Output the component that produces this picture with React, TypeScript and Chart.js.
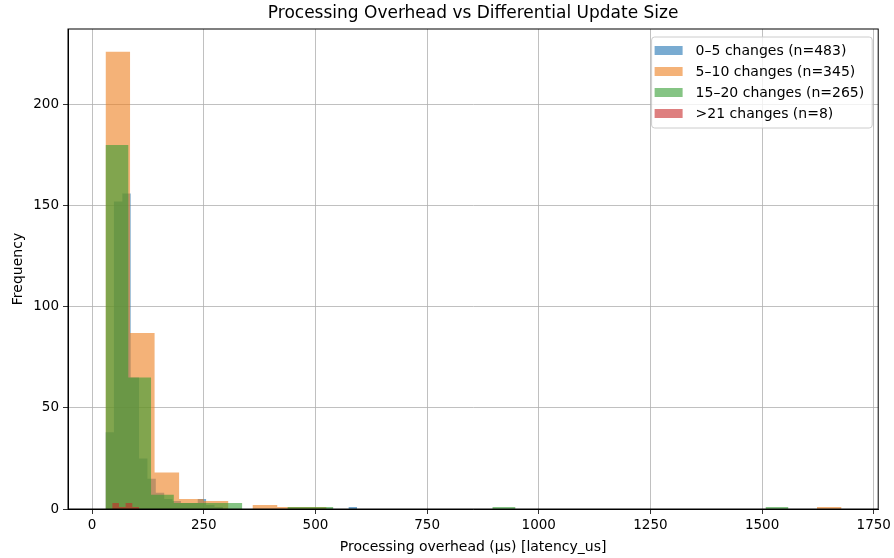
import { useEffect, useRef } from 'react';
import { Chart, registerables } from 'chart.js';

Chart.register(...registerables);

const seriesLabels = ['0–5 changes (n=483)', '5–10 changes (n=345)', '15–20 changes (n=265)', '>21 changes (n=8)'];
const seriesColors = ['rgba(31,115,178,0.6)', 'rgba(236,127,30,0.6)', 'rgba(52,156,50,0.6)', 'rgba(200,42,42,0.6)'];

// histogram bins: start, width, counts
const blueBinStart = 30;
const blueBinWidth = 18.77;
const blueCounts = [38, 152, 156, 65, 25, 15, 8, 5, 4, 3, 3, 5, 2, 1, 0, 0, 0, 0, 0, 0, 0, 0, 0, 0, 0, 0, 0, 0, 0, 1];

const orangeBinStart = 30;
const orangeBinWidth = 54.93;
const orangeCounts = [226, 87, 18, 5, 4, 0, 2, 1, 1, 0, 0, 0, 0, 0, 0, 0, 0, 0, 0, 0, 0, 0, 0, 0, 0, 0, 0, 0, 0, 1];

const greenBinStart = 30;
const greenBinWidth = 50.97;
const greenCounts = [180, 65, 7, 3, 3, 3, 0, 0, 1, 1, 0, 0, 0, 0, 0, 0, 0, 1, 0, 0, 0, 0, 0, 0, 0, 0, 0, 0, 0, 1];

const redBinStart = 45;
const redBinWidth = 15;
const redCounts = [3, 1, 3, 1];

const xTicks = [0, 250, 500, 750, 1000, 1250, 1500, 1750];
const yTicks = [0, 50, 100, 150, 200];

const FONT = 'DejaVu Sans';

function histPoints(start: number, width: number, counts: number[]) {
  const pts: { x: number; y: number }[] = [{ x: start, y: 0 }];
  counts.forEach((c, i) => {
    const x0 = start + i * width;
    pts.push({ x: x0, y: c }, { x: x0 + width, y: c });
  });
  pts.push({ x: start + counts.length * width, y: 0 });
  return pts;
}

const decorPlugin = {
  id: 'decor',
  afterDraw(chart: any) {
    const { ctx, chartArea: ca } = chart;
    ctx.save();
    // spines
    ctx.strokeStyle = '#000';
    ctx.lineWidth = 1;
    ctx.strokeRect(ca.left, ca.top, ca.right - ca.left, ca.bottom - ca.top);
    // title
    ctx.fillStyle = '#000';
    ctx.font = `17px "${FONT}"`;
    ctx.textAlign = 'center';
    ctx.textBaseline = 'middle';
    ctx.fillText('Processing Overhead vs Differential Update Size', (ca.left + ca.right) / 2, 14);
    // legend
    ctx.font = `14px "${FONT}"`;
    const textW = Math.max(...seriesLabels.map((l) => ctx.measureText(l).width));
    const boxRight = ca.right - 6;
    const boxLeft = boxRight - textW - 52;
    const boxTop = ca.top + 8;
    const rowH = 21;
    const boxH = 91;
    const r = 3;
    ctx.beginPath();
    ctx.moveTo(boxLeft + r, boxTop);
    ctx.arcTo(boxRight, boxTop, boxRight, boxTop + boxH, r);
    ctx.arcTo(boxRight, boxTop + boxH, boxLeft, boxTop + boxH, r);
    ctx.arcTo(boxLeft, boxTop + boxH, boxLeft, boxTop, r);
    ctx.arcTo(boxLeft, boxTop, boxRight, boxTop, r);
    ctx.closePath();
    ctx.fillStyle = 'rgba(255,255,255,0.8)';
    ctx.fill();
    ctx.strokeStyle = '#cccccc';
    ctx.stroke();
    ctx.textAlign = 'left';
    seriesLabels.forEach((lab, i) => {
      const cy = boxTop + 13.5 + i * rowH;
      ctx.fillStyle = seriesColors[i];
      ctx.fillRect(boxLeft + 3, cy - 4.5, 28, 9);
      ctx.fillStyle = '#000';
      ctx.fillText(lab, boxLeft + 44, cy + 1);
    });
    ctx.restore();
  },
};

export default function App() {
  const ref = useRef<HTMLCanvasElement>(null);
  useEffect(() => {
    document.body.style.margin = '0';
    const tickFont = { family: FONT, size: 13.5 };
    const labelFont = { family: FONT, size: 14 };
    const chart = new Chart(ref.current!, {
      type: 'line',
      data: {
        datasets: [
          { label: seriesLabels[0], data: histPoints(blueBinStart, blueBinWidth, blueCounts), order: 4 },
          { label: seriesLabels[1], data: histPoints(orangeBinStart, orangeBinWidth, orangeCounts), order: 3 },
          { label: seriesLabels[2], data: histPoints(greenBinStart, greenBinWidth, greenCounts), order: 2 },
          { label: seriesLabels[3], data: histPoints(redBinStart, redBinWidth, redCounts), order: 1 },
        ].map((d, i) => ({
          ...d,
          backgroundColor: seriesColors[i],
          borderColor: 'transparent',
          borderWidth: 0,
          pointRadius: 0,
          pointHitRadius: 0,
          fill: 'origin',
          tension: 0,
        })) as any,
      },
      options: {
        responsive: false,
        animation: false,
        events: [],
        layout: { padding: { left: 0, right: 15, top: 29, bottom: 0 } },
        plugins: { legend: { display: false }, title: { display: false }, tooltip: { enabled: false } },
        scales: {
          x: {
            type: 'linear',
            min: -54,
            max: 1760,
            z: 1,
            afterBuildTicks: (s: any) => {
              s.ticks = xTicks.map((v) => ({ value: v }));
            },
            afterFit: (s: any) => {
              s.height = 49;
            },
            grid: { color: '#b0b0b0', lineWidth: 0.8, tickColor: '#000', tickLength: 5, drawTicks: true },
            border: { color: '#000', width: 1 },
            ticks: { color: '#000', font: tickFont, padding: 3, maxRotation: 0, autoSkip: false, callback: (v: any) => String(v) },
            title: { display: true, text: 'Processing overhead (µs) [latency_us]', color: '#000', font: labelFont, padding: { top: 0, bottom: 2 } },
          },
          y: {
            type: 'linear',
            min: 0,
            max: 237.3,
            z: 1,
            afterBuildTicks: (s: any) => {
              s.ticks = yTicks.map((v) => ({ value: v }));
            },
            afterFit: (s: any) => {
              s.width = 68;
            },
            grid: { color: '#b0b0b0', lineWidth: 0.8, tickColor: '#000', tickLength: 5, drawTicks: true },
            border: { color: '#000', width: 1 },
            ticks: { color: '#000', font: tickFont, padding: 4, autoSkip: false, callback: (v: any) => String(v) },
            title: { display: true, text: 'Frequency', color: '#000', font: labelFont, padding: { top: 10, bottom: 0 } },
          },
        },
      },
      plugins: [decorPlugin],
    });
    return () => chart.destroy();
  }, []);
  return (
    <div style={{ width: 894, height: 558 }}>
      <canvas ref={ref} width={894} height={558} />
    </div>
  );
}
